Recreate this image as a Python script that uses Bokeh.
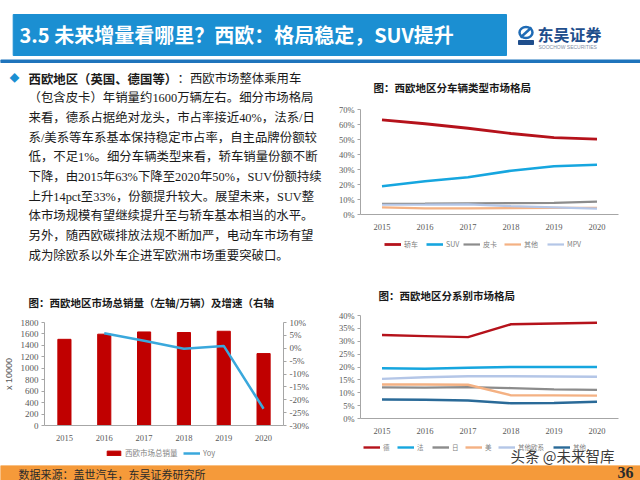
from bokeh.plotting import figure
from bokeh.models import (Range1d, LinearAxis, FixedTicker, NumeralTickFormatter,
                          Legend, LegendItem)
from bokeh.layouts import column, row
from bokeh.core.properties import value
from bokeh.embed import file_html
from bokeh.resources import INLINE

# ---------------- data ----------------
years = [2015, 2016, 2017, 2018, 2019, 2020]

# chart 1: vehicle-type share
type_labels = ["轿车", "SUV", "皮卡", "其他", "MPV"]
share_sedan = [0.631, 0.605, 0.575, 0.540, 0.512, 0.503]
share_suv = [0.188, 0.222, 0.248, 0.292, 0.322, 0.332]
share_pickup = [0.071, 0.072, 0.074, 0.076, 0.078, 0.086]
share_other_type = [0.047, 0.041, 0.041, 0.043, 0.044, 0.045]
share_mpv = [0.065, 0.066, 0.068, 0.056, 0.048, 0.039]

# chart 2: total sales (10k units) and yoy
sales_labels = ["西欧市场总销量", "Yoy"]
sales = [1506, 1596, 1635, 1625, 1647, 1257]
yoy_years = [2016, 2017, 2018, 2019, 2020]
yoy = [0.058, 0.029, -0.002, 0.009, -0.235]
sales_ticks = [0, 200, 400, 600, 800, 1000, 1200, 1400, 1600, 1800]
yoy_ticks = [0.10, 0.05, 0.0, -0.05, -0.10, -0.15, -0.20, -0.25, -0.30]

# chart 3: share by brand origin
origin_labels = ["德", "法", "日", "美", "其他欧系", "其他"]
share_de = [0.324, 0.320, 0.316, 0.366, 0.369, 0.372]
share_fr = [0.195, 0.193, 0.197, 0.200, 0.200, 0.200]
share_jp = [0.121, 0.120, 0.122, 0.118, 0.113, 0.111]
share_us = [0.132, 0.132, 0.131, 0.090, 0.090, 0.089]
share_eu_other = [0.154, 0.160, 0.164, 0.164, 0.163, 0.162]
share_other_origin = [0.074, 0.073, 0.070, 0.059, 0.060, 0.065]

# ---------------- text ----------------
slide_title = "3.5 未来增量看哪里？西欧：格局稳定，SUV提升"
body_bold = "西欧地区（英国、德国等）"
body_lines = [
    "：西欧市场整体乘用车",
    "（包含皮卡）年销量约1600万辆左右。细分市场格局",
    "来看，德系占据绝对龙头，市占率接近40%，法系/日",
    "系/美系等车系基本保持稳定市占率，自主品牌份额较",
    "低，不足1%。细分车辆类型来看，轿车销量份额不断",
    "下降，由2015年63%下降至2020年50%，SUV份额持续",
    "上升14pct至33%，份额提升较大。展望未来，SUV整",
    "体市场规模有望继续提升至与轿车基本相当的水平。",
    "另外，随西欧碳排放法规不断加严，电动车市场有望",
    "成为除欧系以外车企进军欧洲市场重要突破口。",
]
source_text = "数据来源：盖世汽车，东吴证券研究所"
watermark = "头条 @未来智库"

CJK = "Noto Sans CJK SC"
MIXED = "Liberation Serif, Noto Sans CJK SC"
SERIF = "Liberation Serif"
RED = "#B5121B"
BLUE = "#16A6DF"
GRAY = "#8C8C8C"
ORANGE = "#F4B183"
LAV = "#B4C6E7"
TEAL = "#2A6A98"
BAR = "#C00000"
YOY = "#3AA8DC"

LW = 330  # left column width
RW = 310  # right column width


def deco(w, h, xr, yr):
    p = figure(width=w, height=h, x_range=Range1d(*xr), y_range=Range1d(*yr),
               output_backend="svg", toolbar_location=None, min_border=0,
               x_axis_type=None, y_axis_type=None)
    p.outline_line_color = None
    p.background_fill_color = "white"
    p.border_fill_color = "white"
    return p


# ---------------- header ----------------
hdr = deco(640, 63, (0, 640), (63, 0))
hdr.quad(left=[12.7], right=[506], top=[14], bottom=[55], color="#1B8FD2")
hdr.quad(left=[0], right=[640], top=[59.5], bottom=[62], color="#1F74BC")
hdr.text(x=[19], y=[34], text=[slide_title], text_color="white",
         text_font=value(CJK), text_font_style="bold", text_font_size="20px",
         text_baseline="middle")
hdr.ellipse(x=[525.5], y=[32], width=[13], height=[11], fill_color=None,
            line_color="#1F6BB5", line_width=2.5)
hdr.segment(x0=[520], y0=[37], x1=[531], y1=[27], line_color="#1F6BB5", line_width=2.5)
hdr.quad(left=[518], right=[533], top=[40], bottom=[44], color="#1F4E8C")
hdr.text(x=[537], y=[33], text=["东吴证券"], text_color="#1F4E8C",
         text_font=value(CJK), text_font_style="bold", text_font_size="16px",
         text_baseline="middle")
hdr.text(x=[538], y=[46.5], text=["SOOCHOW SECURITIES"], text_color="#7F8FA6",
         text_font=value("Liberation Sans"), text_font_size="5px",
         text_baseline="middle")

# ---------------- text block (page coords: x, y-63) ----------------
txt = deco(LW, 217, (0, LW), (217, 0))
txt.text(x=[14], y=[14], text=["◆"], text_font=value(CJK), text_font_size="10px",
         text_color="#1B8FD2", text_baseline="middle", text_align="center")
line_y = [15 + 19.7 * i for i in range(len(body_lines))]
txt.text(x=[28], y=[line_y[0]], text=[body_bold], text_font=value(CJK),
         text_font_style="bold", text_font_size="12.4px", text_color="#1A1A1A",
         text_baseline="middle")
txt.text(x=[177] + [28] * (len(body_lines) - 1), y=line_y, text=body_lines,
         text_font=value(MIXED), text_font_size="12.4px", text_color="#1A1A1A",
         text_baseline="middle")


def style_axes(p, xsize="8.5px", ysize="8.5px"):
    p.grid.visible = False
    p.outline_line_color = None
    p.xaxis.ticker = FixedTicker(ticks=years)
    for ax in p.xaxis:
        ax.major_label_text_font = SERIF
        ax.major_label_text_font_size = xsize
        ax.major_label_text_color = "#595959"
        ax.axis_line_color = "#A6A6A6"
        ax.major_tick_line_color = None
        ax.minor_tick_line_color = None
        ax.major_label_standoff = 3
    for ax in p.yaxis:
        ax.major_label_text_font = SERIF
        ax.major_label_text_font_size = ysize
        ax.major_label_text_color = "#595959"
        ax.axis_line_color = "#A6A6A6"
        ax.major_tick_line_color = "#A6A6A6"
        ax.major_tick_out = 3
        ax.major_tick_in = 0
        ax.minor_tick_line_color = None
        ax.major_label_standoff = 3


def style_title(p, offset, standoff):
    p.title.text_font = CJK
    p.title.text_font_size = "10.5px"
    p.title.text_font_style = "bold"
    p.title.text_color = "#1A1A1A"
    p.title.align = "left"
    p.title.offset = offset
    p.title.standoff = standoff


def item_legends(p, renderers, labels, starts, y, size, glyph_heights=None):
    # one single-item legend per entry, placed at its own x (frame pixels)
    for i, (r, l, s) in enumerate(zip(renderers, labels, starts)):
        gh = glyph_heights[i] if glyph_heights else 8
        p.add_layout(Legend(items=[LegendItem(label=l, renderers=[r])],
                            location=(s, y), orientation="horizontal",
                            border_line_color=None, background_fill_alpha=0,
                            label_text_font=CJK, label_text_font_size=size,
                            label_text_color="#7F7F7F", glyph_width=17,
                            glyph_height=gh, label_height=8, label_standoff=3,
                            padding=0, margin=0))


def chart(w, h, yr, lb, rb, tb, bb, title):
    p = figure(width=w, height=h, x_range=Range1d(2014.5, 2020.5),
               y_range=Range1d(*yr), output_backend="svg", toolbar_location=None,
               min_border_left=lb, min_border_right=rb, min_border_top=tb,
               min_border_bottom=bb, title=title)
    p.border_fill_color = "white"
    return p


# ---------------- chart 1 (page y 63..232) ----------------
c1 = chart(RW, 169, (0, 0.7), 30, 22, 44, 17, "图：西欧地区分车辆类型市场格局")
style_axes(c1)
style_title(c1, 13, 29)
c1.yaxis.ticker = FixedTicker(ticks=[0, 0.1, 0.2, 0.3, 0.4, 0.5, 0.6, 0.7])
c1.yaxis.formatter = NumeralTickFormatter(format="0%")
series1 = [share_sedan, share_suv, share_pickup, share_other_type, share_mpv]
colors1 = [RED, BLUE, GRAY, ORANGE, LAV]
widths1 = [2.8, 2.6, 2.2, 2.2, 2.2]
for s, c, w in zip(series1, colors1, widths1):
    c1.line(x=years, y=s, line_color=c, line_width=w)

# legend strip for chart 1 (page x 330..640, y 232..273); proxies lie outside its range
leg1 = deco(RW, 41, (0, 1), (0, 1))
proxies1 = [leg1.line(x=years, y=s, line_color=c, line_width=w)
            for s, c, w in zip(series1, colors1, widths1)]
item_legends(leg1, proxies1, type_labels, [54, 96, 133, 174, 217], 24, "7px")

# ---------------- chart 2 (page y 280..443) ----------------
c2 = chart(LW, 163, (0, 1800), 40, 47, 42, 15, "图：西欧地区市场总销量（左轴/万辆）及增速（右轴")
c2.extra_y_ranges = {"yoy": Range1d(-0.30, 0.10)}
c2.vbar(x=years, top=sales, width=0.33, color=BAR)
c2.line(x=yoy_years, y=yoy, y_range_name="yoy", line_color=YOY, line_width=2.5)
rax = LinearAxis(y_range_name="yoy", ticker=FixedTicker(ticks=yoy_ticks),
                 formatter=NumeralTickFormatter(format="0%"))
c2.add_layout(rax, "right")
style_axes(c2, xsize="8.5px", ysize="9px")
style_title(c2, -16, 25)
lax = c2.left[0]
lax.ticker = FixedTicker(ticks=sales_ticks)
lax.axis_label = "x 10000"
lax.axis_label_text_font = "Liberation Sans"
lax.axis_label_text_font_style = "normal"
lax.axis_label_text_font_size = "9px"
lax.axis_label_text_color = "#595959"
lax.axis_label_standoff = 4

# legend strip for chart 2 (page x 0..330, y 443..465)
leg2 = deco(LW, 22, (0, 1), (0, 1))
pb = leg2.vbar(x=years, top=sales, width=0.33, color=BAR)
pl = leg2.line(x=yoy_years, y=yoy, line_color=YOY, line_width=2.5)
item_legends(leg2, [pb, pl], sales_labels, [105, 183], 7, "7.5px", glyph_heights=[6, 8])

# ---------------- chart 3 (page y 273..436) ----------------
c3 = chart(RW, 163, (0, 0.4), 30, 22, 40, 15, "图：西欧地区分系别市场格局")
style_axes(c3)
style_title(c3, 18, 25)
c3.yaxis.ticker = FixedTicker(ticks=[0, 0.05, 0.1, 0.15, 0.2, 0.25, 0.3, 0.35, 0.4])
c3.yaxis.formatter = NumeralTickFormatter(format="0%")
series3 = [share_de, share_fr, share_jp, share_us, share_eu_other, share_other_origin]
colors3 = [RED, BLUE, GRAY, ORANGE, LAV, TEAL]
for s, c in zip(series3, colors3):
    c3.line(x=years, y=s, line_color=c, line_width=2.4)

# legend strip for chart 3 (page coords x 330..640, y 436..465)
leg3 = deco(RW, 29, (330, 640), (465, 436))
proxies3 = [leg3.line(x=years, y=s, line_color=c, line_width=2.4)
            for s, c in zip(series3, colors3)]
item_legends(leg3, proxies3, origin_labels, [33, 67, 102, 135, 168, 223], 13, "6.5px")
leg3.text(x=[510], y=[455], text=[watermark], text_font=value(CJK),
          text_font_size="14.5px", text_color="#3A3A3A", text_baseline="middle")

# ---------------- footer ----------------
ftr = deco(640, 15, (0, 640), (15, 0))
ftr.quad(left=[0], right=[640], top=[0], bottom=[15], color="#F59A3A")
ftr.text(x=[18], y=[8], text=[source_text], text_font=value(CJK),
         text_font_size="11px", text_color="#2B2B2B", text_baseline="middle")
ftr.text(x=[633], y=[7], text=["36"], text_font=value(SERIF), text_font_style="bold",
         text_font_size="16px", text_color="#2B2B2B", text_baseline="middle",
         text_align="right")

left_col = column(column(txt), c2, column(leg2))
right_col = column(c1, column(leg1), c3, column(leg3))
layout = column(hdr, row(left_col, right_col), ftr)

open("out.html", "w").write(file_html(layout, INLINE))
